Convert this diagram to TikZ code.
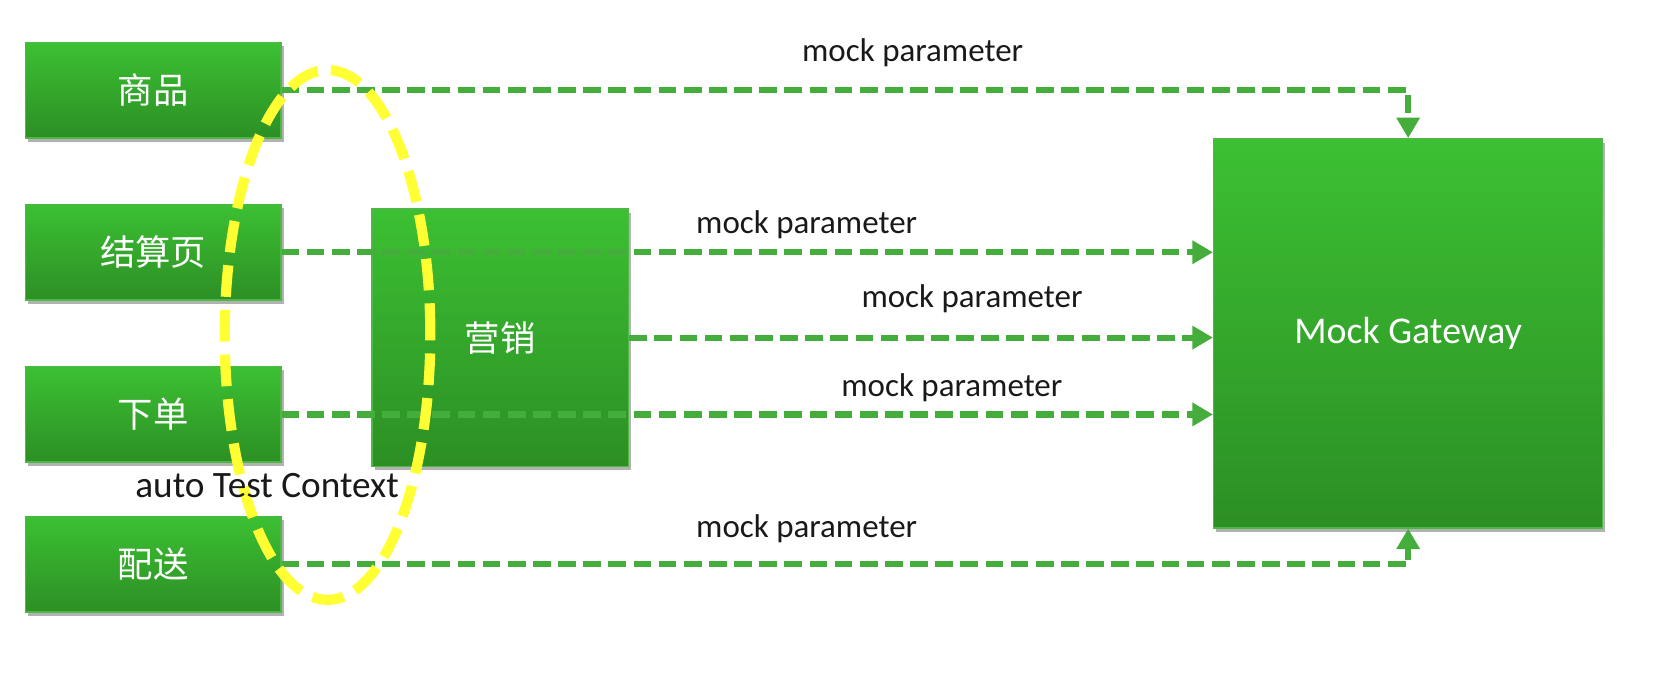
\documentclass[tikz,border=0pt]{standalone}
\usepackage{fontspec}
\setmainfont{Carlito}
\newfontfamily\cjk{Noto Sans CJK SC}
\usetikzlibrary{arrows.meta,shadows,shapes.geometric}
\definecolor{boxtop}{HTML}{3CC033}
\definecolor{boxbot}{HTML}{2C8F24}
\definecolor{boxline}{HTML}{4DB843}
\definecolor{linkgreen}{HTML}{45AD3C}
\definecolor{ctxyellow}{HTML}{FFFF33}
\tikzset{
  module/.style={draw=boxline, line width=0.8pt, top color=boxtop, bottom color=boxbot,
    text=white, font=\cjk\fontsize{19}{22}\selectfont,
    minimum width=4.82cm, minimum height=1.8cm,
    drop shadow={shadow xshift=1.5pt, shadow yshift=-2pt, opacity=0.3, fill=black}},
  link/.style={draw=linkgreen, line width=3.3pt, dash pattern=on 9.5pt off 4pt,
    -{Triangle[length=11pt,width=12pt]}},
  paramtext/.style={font=\fontsize{17.7}{20}\selectfont, text=black!90},
  ctxring/.style={ellipse, draw=ctxyellow, line width=5.5pt, dash pattern=on 17pt off 7pt,
    minimum width=3.88cm, minimum height=10cm, inner sep=0pt}
}
\begin{document}
\begin{tikzpicture}[x=0.02cm, y=-0.02cm]
  \useasboundingbox (0,0) rectangle (1568,641);

  \node[module] (sp) at (144.5,85)  {商品};
  \node[module] (js) at (144.5,238) {结算页};
  \node[module] (xd) at (144.5,391) {下单};
  \node[module] (ps) at (144.5,532.5) {配送};
  \node[module, minimum width=4.84cm, minimum height=4.86cm] (yx) at (472,318.5) {营销};
  \node[module, minimum width=7.34cm, minimum height=7.34cm,
        font=\fontsize{20.3}{24}\selectfont] (gw) at (1328.5,314.5) {Mock Gateway};

  \draw[link] (sp.east) -| (gw.north);
  \draw[link] (js.east) -- (js.east -| gw.west);
  \draw[link] (yx.east) -- (yx.east -| gw.west);
  \draw[link] (xd.east) -- (xd.east -| gw.west);
  \draw[link] (ps.east) -| (gw.south);

  \node[paramtext] (p1) at (861,50)  {mock parameter};
  \node[paramtext] (p2) at (761,212) {mock parameter};
  \node[paramtext] (p3) at (917,282) {mock parameter};
  \node[paramtext] (p4) at (898,366) {mock parameter};
  \node[paramtext] (p5) at (761,499) {mock parameter};

  \node[ctxring] (ctx) at (309,316) {};
  \node[paramtext, font=\fontsize{20}{24}\selectfont] (ctxname) at (252,458) {auto Test Context};
\end{tikzpicture}
\end{document}
